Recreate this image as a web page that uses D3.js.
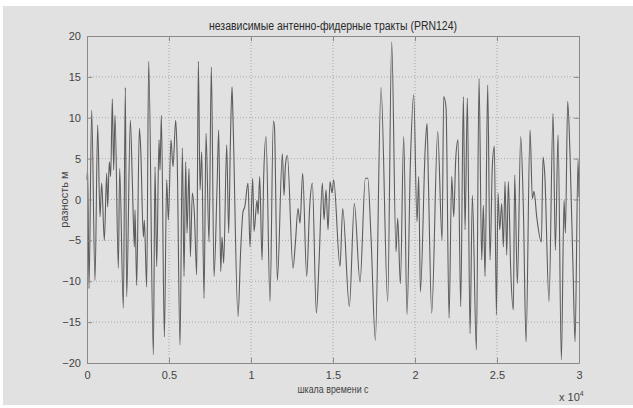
<!DOCTYPE html>
<html><head><meta charset="utf-8">
<script src="https://cdn.jsdelivr.net/npm/d3@7"></script>
<style>html,body{margin:0;padding:0;background:#fff;}svg{display:block;}</style>
</head><body>
<script>
const title = "независимые антенно-фидерные тракты (PRN124)";
const xLabel = "шкала времени с";
const yLabel = "разность м";
const xTicks = [0, 5000, 10000, 15000, 20000, 25000, 30000];
const xTickLabels = ["0", "0.5", "1", "1.5", "2", "2.5", "3"];
const yTicks = [-20, -15, -10, -5, 0, 5, 10, 15, 20];
// time (s) of extrema
const times = [0,41,122,285,488,651,793,895,1057,1200,1260,1362,1443,1545,1626,1708,1911,1992,2216,2338,2419,2643,2765,2887,2928,3029,3192,3273,3436,3497,3639,3761,4046,4147,4249,4391,4453,4534,4717,4859,4961,5123,5245,5408,5489,5672,5814,5916,6018,6099,6221,6302,6424,6546,6689,6790,6892,6994,7136,7258,7441,
7582,7745,7928,8030,8152,8233,8335,8518,8640,8742,8843,8900,9208,9371,9513,9620,9818,9940,10103,10184,10367,10430,10530,10672,10774,10916,11160,11363,11430,11607,11912,12014,12100,12216,12562,12704,12867,12990,13151,13395,13578,13741,13985,14150,14351,14453,14575,14697,14819,14941,
15042,15428,15591,15997,16302,16648,16973,17120,17318,17583,17928,18335,18579,18843,18945,19108,19311,19514,19718,19921,20124,20226,20328,20633,20735,20820,21019,21385,21650,21751,21893,22077,22240,22362,22484,
22624,22787,22949,23051,23193,23356,23498,23742,23905,24067,24169,24271,24433,24575,24718,24840,24962,25063,25165,25286,25388,25490,25592,25693,25836,25998,26080,26242,26446,26608,26771,27015,27157,27258,27421,27706,27807,27909,28173,28417,28559,28722,28925,29088,29170,29311,29454,29637,29759,29942,30000];
// difference (m) at those times
const values = [2.4,3.8,-10.9,10.9,-9.9,9.1,-2.1,2.0,-5.0,3.2,-0.9,4.6,2.8,12.3,3.6,10.3,-8.4,3.8,-13.3,13.7,-11.9,9.7,2.2,-5.8,-1.3,-10.5,8.7,6.3,-4.6,-2.5,-10.7,16.9,-19.0,4.0,-8.2,7.3,3.6,10.3,-16.8,2.4,-2.5,7.3,4.0,9.7,6.1,-17.8,6.3,-9.4,4.6,-4.1,3.8,-7.0,0.8,-1.7,-9.2,16.9,1.2,5.8,-12.1,8.1,-5.2,
16.2,-9.4,1.4,8.5,-8.8,-4.6,-7.8,6.7,-4.1,6.9,13.8,10.1,-14.3,-6.2,-1.5,-0.9,2.0,-5.8,2.6,-3.9,-0.1,-1.8,2.8,-7.4,2.8,7.7,-12.5,9.6,8.9,-9.9,5.6,0.5,4.2,5.4,-8.4,-5.4,-1.1,-2.9,3.2,-9.4,-0.9,2.0,-13.9,-7.6,2.0,-2.5,1.2,-3.7,2.2,0.8,
2.4,-8.2,-1.1,-13.1,-0.5,-10.1,2.6,2.6,-4.6,-17.2,13.7,-12.5,19.3,-6.4,-2.3,-10.3,7.7,-14.1,4.4,12.8,-2.7,2.8,-11.3,6.7,9.3,2.0,-13.9,8.3,-5.0,12.6,11.2,-14.5,2.8,-2.1,5.0,
7.3,-13.1,12.6,-3.7,12.4,-16.4,0.5,-18.4,14.8,-7.4,-0.7,-9.4,14.0,-7.4,4.2,6.5,-14.1,0.8,-3.7,-0.5,-5.8,2.2,-6.8,2.2,-8.6,-13.5,3.0,-10.3,7.7,-1.1,-17.4,8.5,0.1,1.0,-2.1,-5.2,5.2,3.2,-12.5,10.5,-6.2,7.9,-19.6,-0.1,-4.1,12.0,5.4,-8.6,-17.4,4.8,0.3];

const W = 633, H = 408;
const m = {left: 87, top: 36, right: 579, bottom: 363};
const svg = d3.select("body").append("svg").attr("width", W).attr("height", H)
  .style("font-family", "'Liberation Sans', Arial, sans-serif");
svg.append("rect").attr("x", 3).attr("y", 6).attr("width", W - 3).attr("height", 399).attr("fill", "#e1e1e1");

const x = d3.scaleLinear().domain([0, 30000]).range([m.left, m.right]);
const y = d3.scaleLinear().domain([-20, 20]).range([m.bottom, m.top]);

const g = svg.append("g");
// grid
g.selectAll(".gx").data(xTicks.slice(1, -1)).join("line")
  .attr("x1", d => x(d)).attr("x2", d => x(d)).attr("y1", m.top).attr("y2", m.bottom)
  .attr("stroke", "#a8a8a8").attr("stroke-width", 1).attr("stroke-dasharray", "1,2");
g.selectAll(".gy").data(yTicks.slice(1, -1)).join("line")
  .attr("y1", d => y(d)).attr("y2", d => y(d)).attr("x1", m.left).attr("x2", m.right)
  .attr("stroke", "#a8a8a8").attr("stroke-width", 1).attr("stroke-dasharray", "1,2");

// data line
const pts = times.map((t, i) => [t, values[i]]);
svg.append("path").datum(pts)
  .attr("d", d3.line().x(d => x(d[0])).y(d => y(d[1])).curve(d3.curveMonotoneX))
  .attr("fill", "none").attr("stroke", "#5c5c5c").attr("stroke-width", 1.1);

// axes
const ax = svg.append("g").attr("transform", `translate(0,${m.bottom})`)
  .call(d3.axisBottom(x).tickValues(xTicks).tickFormat((d, i) => xTickLabels[i]).tickSizeInner(-5).tickSizeOuter(0).tickPadding(8));
const axT = svg.append("g").attr("transform", `translate(0,${m.top})`)
  .call(d3.axisTop(x).tickValues(xTicks).tickFormat("").tickSizeInner(-5).tickSizeOuter(0));
const ay = svg.append("g").attr("transform", `translate(${m.left},0)`)
  .call(d3.axisLeft(y).tickValues(yTicks).tickSizeInner(-5).tickSizeOuter(0).tickPadding(8));
const ayR = svg.append("g").attr("transform", `translate(${m.right},0)`)
  .call(d3.axisRight(y).tickValues(yTicks).tickFormat("").tickSizeInner(-5).tickSizeOuter(0));
[ax, axT, ay, ayR].forEach(a => {
  a.selectAll("path").attr("stroke", "#8a8a8a");
  a.selectAll("line").attr("stroke", "#8a8a8a");
  a.selectAll("text").attr("fill", "#444").style("font-size", "11px").style("font-family", "'Liberation Sans', Arial, sans-serif");
});
ay.selectAll("text").attr("dx", "2");

svg.append("text").attr("x", (m.left + m.right) / 2).attr("y", 30).attr("text-anchor", "middle")
  .attr("fill", "#2a2a2a").style("font-size", "12px").attr("textLength", 248).attr("lengthAdjust", "spacingAndGlyphs").text(title);
svg.append("text").attr("x", (m.left + m.right) / 2).attr("y", 393).attr("text-anchor", "middle")
  .attr("fill", "#444").style("font-size", "11px").attr("textLength", 71).attr("lengthAdjust", "spacingAndGlyphs").text(xLabel);
svg.append("text").attr("transform", `translate(68,${(m.top + m.bottom) / 2}) rotate(-90)`).attr("text-anchor", "middle")
  .attr("fill", "#444").style("font-size", "11px").text(yLabel);
const mult = svg.append("text").attr("x", 559).attr("y", 401).attr("fill", "#444").style("font-size", "11px");
mult.append("tspan").text("x 10");
mult.append("tspan").attr("dy", -5).style("font-size", "7px").text("4");
</script>
</body></html>
